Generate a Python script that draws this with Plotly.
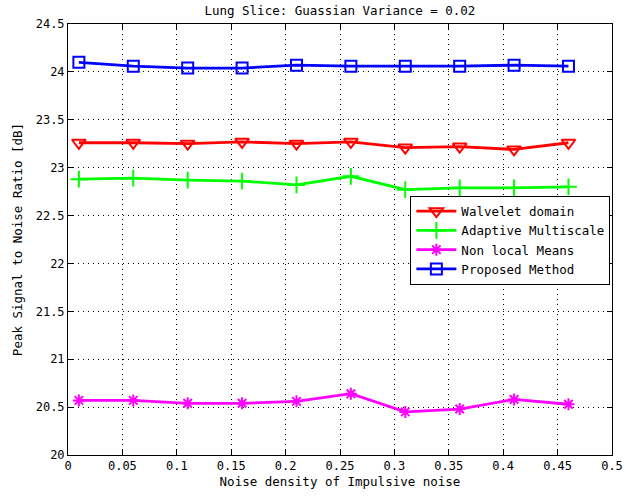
import plotly.graph_objects as go

x = [0.01, 0.06, 0.11, 0.16, 0.21, 0.26, 0.31, 0.36, 0.41, 0.46]
wavelet = [23.26, 23.26, 23.25, 23.27, 23.25, 23.27, 23.21, 23.22, 23.19, 23.26]
adaptive = [22.88, 22.89, 22.87, 22.86, 22.82, 22.91, 22.77, 22.79, 22.79, 22.80]
nlmeans = [20.57, 20.57, 20.54, 20.54, 20.56, 20.64, 20.45, 20.48, 20.58, 20.53]
proposed = [24.10, 24.06, 24.04, 24.04, 24.07, 24.06, 24.06, 24.06, 24.07, 24.06]

xticks = [0, 0.05, 0.1, 0.15, 0.2, 0.25, 0.3, 0.35, 0.4, 0.45, 0.5]
yticks = [20, 20.5, 21, 21.5, 22, 22.5, 23, 23.5, 24, 24.5]

series = [
    ("Walvelet domain", wavelet, "#ff0000", "triangle-down-open", 12),
    ("Adaptive Multiscale", adaptive, "#00ff00", "cross-thin-open", 12),
    ("Non local Means", nlmeans, "#ff00ff", "asterisk-open", 10),
    ("Proposed Method", proposed, "#0000ff", "square-open", 11),
]

FONT = "DejaVu Sans Mono"
fig = go.Figure()
for name, ys, col, sym, sz in series:
    fig.add_trace(go.Scatter(
        x=x, y=ys, name=name, mode="lines+markers",
        line=dict(color=col, width=2.8),
        marker=dict(symbol=sym, size=sz, color=col, line=dict(color=col, width=2)),
    ))

axis_common = dict(
    showline=True, linecolor="black", linewidth=1, mirror="allticks",
    ticks="inside", ticklen=5, tickcolor="black",
    showgrid=True, gridcolor="black", griddash="1px,4px", gridwidth=1,
    zeroline=False, automargin=False,
    tickfont=dict(family=FONT, size=12, color="black"),
)

fig.update_layout(
    width=626, height=500,
    margin=dict(l=68, r=14, t=24, b=45),
    paper_bgcolor="white", plot_bgcolor="white",
    font=dict(family=FONT, size=12, color="black"),
    title=dict(text="Lung Slice: Guassian Variance = 0.02", x=0.543, xanchor="center",
               y=0.978, yanchor="middle", font=dict(family=FONT, size=12.5, color="black")),
    xaxis=dict(range=[0, 0.5], tickvals=xticks, ticktext=[("%g" % v) for v in xticks],
               title=dict(text="Noise density of Impulsive noise", standoff=4,
                          font=dict(family=FONT, size=12.5)), **axis_common),
    yaxis=dict(range=[20, 24.5], tickvals=yticks, ticktext=[("%g" % v) for v in yticks],
               title=dict(text="Peak Signal to Noise Ratio [dB]", standoff=10,
                          font=dict(family=FONT, size=12.5)), **axis_common),
    legend=dict(x=0.997, xanchor="right", y=0.602, yanchor="top",
                bgcolor="white", bordercolor="black", borderwidth=1,
                font=dict(family=FONT, size=12.5, color="black"),
                tracegroupgap=0, itemwidth=40),
    showlegend=True,
)

fig.write_html("out.html", config={"displayModeBar": False},
               post_script="document.body.style.margin='0';")
